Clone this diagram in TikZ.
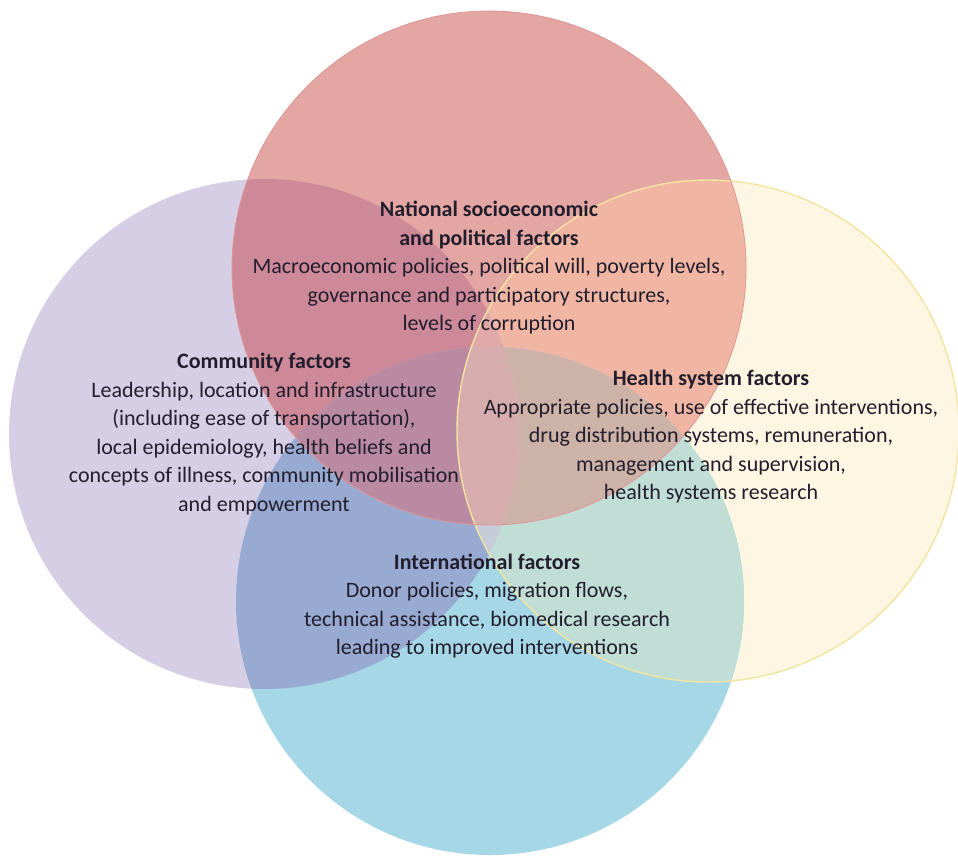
\documentclass[tikz,border=0pt]{standalone}
\usepackage{fontspec}
\setmainfont{Carlito}
\definecolor{cR}{RGB}{228,166,163}
\definecolor{cP}{RGB}{214,206,228}
\definecolor{cY}{RGB}{253,246,226}
\definecolor{cB}{RGB}{166,215,230}
\definecolor{cRP}{RGB}{206,137,152}
\definecolor{cRY}{RGB}{240,182,163}
\definecolor{cRB}{RGB}{205,160,185}
\definecolor{cPY}{RGB}{232,222,226}
\definecolor{cPB}{RGB}{152,170,210}
\definecolor{cYB}{RGB}{193,222,214}
\definecolor{cRPY}{RGB}{224,168,166}
\definecolor{cRPB}{RGB}{186,138,162}
\definecolor{cRYB}{RGB}{205,178,168}
\definecolor{cPYB}{RGB}{198,205,216}
\definecolor{cRPYB}{RGB}{214,172,172}
\definecolor{txtc}{RGB}{35,30,45}
\definecolor{yedge}{RGB}{243,228,160}
\definecolor{redge}{RGB}{222,150,150}
\tikzset{
  txt/.style={align=center, text=txtc, inner sep=0pt, font=\fontsize{11}{14.25}\selectfont}
}
\begin{document}
\begin{tikzpicture}[x=0.5pt,y=-0.5pt]
\useasboundingbox (0,0) rectangle (958,857);
% single circles
\fill[cP] (264,434) circle[radius=127.5pt];
\fill[cY] (708,431) circle[radius=125.5pt];
\fill[cB] (490,601) circle[radius=127pt];
\fill[cR] (489,268) circle[radius=128.5pt];
% pairwise overlaps
\begin{scope}\clip (489,268) circle[radius=128.5pt]; \fill[cRP] (264,434) circle[radius=127.5pt]; \end{scope}
\begin{scope}\clip (489,268) circle[radius=128.5pt]; \fill[cRY] (708,431) circle[radius=125.5pt]; \end{scope}
\begin{scope}\clip (489,268) circle[radius=128.5pt]; \fill[cRB] (490,601) circle[radius=127pt]; \end{scope}
\begin{scope}\clip (264,434) circle[radius=127.5pt]; \fill[cPY] (708,431) circle[radius=125.5pt]; \end{scope}
\begin{scope}\clip (264,434) circle[radius=127.5pt]; \fill[cPB] (490,601) circle[radius=127pt]; \end{scope}
\begin{scope}\clip (708,431) circle[radius=125.5pt]; \fill[cYB] (490,601) circle[radius=127pt]; \end{scope}
% triple overlaps
\begin{scope}\clip (489,268) circle[radius=128.5pt]; \clip (264,434) circle[radius=127.5pt]; \fill[cRPY] (708,431) circle[radius=125.5pt]; \end{scope}
\begin{scope}\clip (489,268) circle[radius=128.5pt]; \clip (264,434) circle[radius=127.5pt]; \fill[cRPB] (490,601) circle[radius=127pt]; \end{scope}
\begin{scope}\clip (489,268) circle[radius=128.5pt]; \clip (708,431) circle[radius=125.5pt]; \fill[cRYB] (490,601) circle[radius=127pt]; \end{scope}
\begin{scope}\clip (264,434) circle[radius=127.5pt]; \clip (708,431) circle[radius=125.5pt]; \fill[cPYB] (490,601) circle[radius=127pt]; \end{scope}
% quadruple overlap
\begin{scope}\clip (489,268) circle[radius=128.5pt]; \clip (264,434) circle[radius=127.5pt]; \clip (708,431) circle[radius=125.5pt]; \fill[cRPYB] (490,601) circle[radius=127pt]; \end{scope}
% edges
\draw[yedge, line width=0.7pt] (708,431) circle[radius=125.5pt];
\draw[redge, line width=0.4pt] (489,268) circle[radius=128.5pt];
% texts
\node[txt] (nat) at (489,268) {\textbf{National socioeconomic}\\\textbf{and political factors}\\Macroeconomic policies, political will, poverty levels,\\governance and participatory structures,\\levels of corruption};
\node[txt] (com) at (264,434) {\textbf{Community factors}\\Leadership, location and infrastructure\\(including ease of transportation),\\local epidemiology, health beliefs and\\concepts of illness, community mobilisation\\and empowerment};
\node[txt] (hea) at (711,437) {\textbf{Health system factors}\\Appropriate policies, use of effective interventions,\\drug distribution systems, remuneration,\\management and supervision,\\health systems research};
\node[txt] (int) at (487,606) {\textbf{International factors}\\Donor policies, migration flows,\\technical assistance, biomedical research\\leading to improved interventions};
\end{tikzpicture}
\end{document}
